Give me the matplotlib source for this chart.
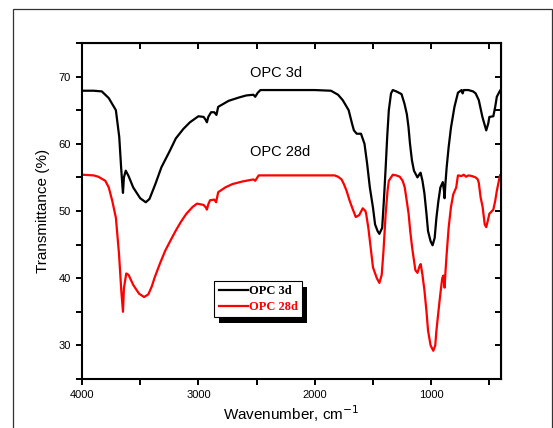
import matplotlib
matplotlib.use('Agg')
import matplotlib.pyplot as plt
from matplotlib.patches import Rectangle
from matplotlib.ticker import MultipleLocator

# Espectros FTIR (numero de onda, transmitancia)
wn_3d = [4000, 3900, 3830, 3770, 3709, 3680, 3664, 3652, 3648, 3640, 3624, 3600,
         3560, 3500, 3452, 3420, 3370, 3318, 3250, 3194, 3130, 3073, 3000, 2955,
         2935, 2927, 2915, 2891, 2864, 2845, 2830, 2740, 2650, 2588, 2527, 2512,
         2490, 2467, 2000, 1861, 1800, 1760, 1709, 1680, 1664, 1640, 1618, 1603,
         1573, 1550, 1527, 1500, 1482, 1460, 1445, 1421, 1405, 1391, 1378, 1364,
         1345, 1330, 1300, 1255, 1230, 1209, 1195, 1182, 1165, 1148, 1118, 1100,
         1091, 1075, 1058, 1040, 1027, 1005, 988, 970, 955, 938, 921, 900, 890,
         885, 878, 867, 850, 830, 800, 770, 739, 730, 720, 680, 640, 618, 591,
         560, 527, 510, 500, 466, 450, 436, 409]
tr_3d = [67.9, 67.9, 67.8, 66.8, 65.0, 61.0, 56.5, 53.5, 52.7, 55.0, 56.0, 55.2,
         53.5, 51.9, 51.3, 51.8, 54.0, 56.5, 58.8, 60.8, 62.2, 63.2, 64.1, 64.0,
         63.5, 63.2, 64.0, 64.7, 64.7, 64.3, 65.5, 66.4, 66.9, 67.2, 67.3, 67.0,
         67.6, 68.0, 68.0, 67.9, 67.3, 66.5, 65.0, 63.0, 62.0, 61.5, 61.5, 61.5,
         60.0, 57.0, 53.5, 50.5, 48.0, 47.0, 46.6, 47.5, 52.0, 56.5, 61.0, 65.0,
         67.5, 68.0, 67.8, 67.4, 66.0, 64.4, 62.5, 60.0, 57.5, 56.0, 55.0, 55.5,
         55.7, 54.5, 52.6, 49.5, 47.0, 45.5, 44.9, 46.0, 49.0, 51.5, 53.5, 54.3, 53.0,
         51.9, 54.0, 56.5, 59.5, 62.4, 65.5, 67.6, 68.0, 67.5, 68.0, 68.0, 67.8, 67.5, 66.5,
         64.0, 62.0, 63.0, 64.0, 64.1, 65.5, 67.0, 67.9]

wn_28d = [4000, 3900, 3860, 3800, 3770, 3740, 3709, 3682, 3662, 3648, 3640, 3620,
          3600, 3560, 3510, 3467, 3430, 3400, 3376, 3330, 3285, 3240, 3194, 3150,
          3103, 3050, 3012, 2955, 2935, 2927, 2915, 2900, 2864, 2848, 2830, 2770,
          2709, 2620, 2527, 2512, 2482, 2000, 1830, 1800, 1770, 1750, 1727, 1700,
          1679, 1648, 1618, 1588, 1565, 1558, 1540, 1527, 1500, 1467, 1445, 1425,
          1410, 1391, 1375, 1364, 1330, 1300, 1270, 1245, 1227, 1210, 1194, 1180,
          1164, 1136, 1118, 1100, 1090, 1075, 1058, 1040, 1027, 1005, 982, 965,
          955, 935, 921, 905, 895, 885, 877, 867, 850, 830, 810, 785, 770, 740,
          720, 700, 680, 650, 618, 600, 591, 575, 558, 540, 527, 510, 500, 466,
          450, 436, 409]
tr_28d = [55.4, 55.3, 55.1, 54.5, 53.5, 51.5, 49.0, 43.6, 38.0, 35.0, 38.5, 40.7,
          40.5, 39.0, 37.7, 37.2, 37.6, 38.8, 40.1, 42.2, 44.1, 45.6, 47.1, 48.4,
          49.6, 50.6, 51.1, 50.9, 50.5, 50.2, 51.0, 51.6, 51.7, 51.3, 52.8, 53.5,
          54.0, 54.4, 54.7, 54.5, 55.3, 55.3, 55.3, 55.1, 54.7, 54.0, 53.0, 51.5,
          50.5, 49.1, 49.4, 50.4, 50.0, 49.5, 47.5, 45.6, 41.6, 40.0, 39.3, 40.5,
          44.0, 49.6, 53.0, 54.5, 55.4, 55.3, 55.1, 54.5, 53.5, 51.5, 49.6, 47.0,
          44.6, 41.2, 40.8, 41.8, 42.1, 40.5, 38.2, 35.0, 32.2, 30.0, 29.2, 30.0,
          32.2, 35.5, 37.7, 40.0, 40.4, 38.6, 41.0, 43.6, 47.5, 50.6, 52.5, 53.5, 55.3, 55.2,
          55.4, 55.1, 55.3, 55.2, 55.0, 54.7, 54.2, 52.0, 50.6, 48.0, 47.6, 48.8, 49.6, 50.2,
          51.5, 53.0, 55.3]

plt.rcParams['font.family'] = ['Liberation Sans', 'DejaVu Sans']

fig = plt.figure(figsize=(5.53, 4.28), dpi=100)
ax = fig.add_axes([0.1483, 0.1145, 0.7577, 0.785])

ax.plot(wn_3d, tr_3d, color='black', lw=1.6, label='OPC 3d')
ax.plot(wn_28d, tr_28d, color='red', lw=1.6, label='OPC 28d')

ax.set_xlim(4000, 400)
ax.set_ylim(25, 75)
ax.xaxis.set_major_locator(MultipleLocator(1000))
ax.xaxis.set_minor_locator(MultipleLocator(500))
ax.yaxis.set_major_locator(MultipleLocator(10))
ax.yaxis.set_minor_locator(MultipleLocator(5))
ax.set_yticks([30, 40, 50, 60, 70])
ax.tick_params(which='major', direction='out', length=4.5, width=1.4, labelsize=8)
ax.tick_params(which='minor', direction='out', length=4.5, width=1.4)
for s in ax.spines.values():
    s.set_linewidth(1.5)

# ticks hacia adentro arriba y a la derecha
top = ax.secondary_xaxis('top')
top.xaxis.set_major_locator(MultipleLocator(1000))
top.xaxis.set_minor_locator(MultipleLocator(500))
top.tick_params(which='both', direction='in', length=4.5, width=1.4, labeltop=False)
right = ax.secondary_yaxis('right')
right.yaxis.set_major_locator(MultipleLocator(10))
right.yaxis.set_minor_locator(MultipleLocator(5))
right.tick_params(which='both', direction='in', length=4.5, width=1.4, labelright=False)

ax.set_xlabel('Wavenumber, cm$^{-1}$', fontsize=11, labelpad=2)
ax.set_ylabel('Transmittance (%)', fontsize=11, labelpad=6)

ax.text(2333, 70.6, 'OPC 3d', fontsize=10.5, ha='center', va='center')
ax.text(2300, 58.85, 'OPC 28d', fontsize=10.5, ha='center', va='center')

leg = ax.legend(loc='upper left', bbox_to_anchor=(0.316, 0.292), borderaxespad=0,
                fancybox=False, edgecolor='black', framealpha=1, handlelength=2.3,
                handletextpad=0.1, borderpad=0.35, labelspacing=0.3,
                prop={'family': 'Liberation Serif', 'weight': 'bold', 'size': 9})
leg.get_frame().set_linewidth(0.8)
for t, c in zip(leg.get_texts(), ['black', 'red']):
    t.set_color(c)

# sombra negra del cuadro de leyenda
fig.canvas.draw()
bb = leg.get_window_extent()
sombra = Rectangle((bb.x0 + 5, bb.y0 - 6), bb.width, bb.height, transform=None,
                   facecolor='black', edgecolor='none', zorder=4)
ax.add_artist(sombra)
leg.set_zorder(5)

# marco exterior
fig.patches.append(Rectangle((13 / 553, -0.1), 539 / 553, 1.1 - 9 / 428,
                             transform=fig.transFigure, fill=False,
                             edgecolor='#333333', lw=0.9))

fig.savefig('out.png', dpi=100)
